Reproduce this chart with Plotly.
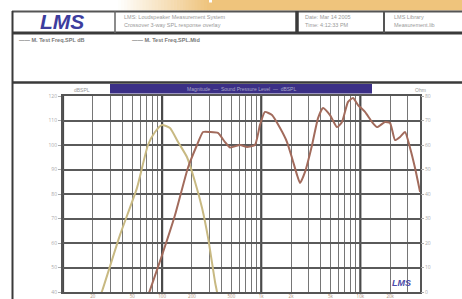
import math
import plotly.graph_objects as go

# ---- data ----
tan_freq = [22, 25, 37.6, 55.8, 72, 84.8, 99.8, 120, 145, 178, 215, 253, 291, 342, 358, 380]
tan_db = [35, 40.8, 63.3, 82.5, 100, 105.3, 108.2, 106.9, 101.2, 95.1, 84.9, 74.3, 62.1, 44.1, 40, 33]

brown_freq = [68, 75.5, 100, 135, 182, 225, 259, 304, 366, 431, 484, 611, 719, 865, 972,
              1091, 1285, 1549, 1821, 2046, 2297, 2464, 2768, 3258, 3743, 4204, 4944, 5818,
              6535, 7512, 8437, 9480, 11150, 13120, 14750, 17750, 19950, 22390, 25170,
              28250, 31760, 35650, 40080]
brown_db = [36, 40.8, 55.1, 71.4, 90.6, 100, 105.3, 105.3, 104.9, 101.2, 99, 100, 99.2, 100,
            108.2, 113.5, 112.2, 106.9, 101.2, 94.7, 87.8, 84.5, 89, 100, 111, 115.1, 112.2,
            107.3, 109.4, 117.6, 119.2, 116.3, 113.5, 109.4, 107.3, 109.4, 109, 102, 103.3,
            105.3, 98.8, 90.6, 80.8]

x_tick_vals = [20, 50, 100, 200, 500, 1000, 2000, 5000, 10000, 20000]
x_tick_text = ["20", "50", "100", "200", "500", "1k", "2k", "5k", "10k", "20k"]
y_tick_vals = [40, 50, 60, 70, 80, 90, 100, 110, 120]
y2_tick_vals = [0, 10, 20, 30, 40, 50, 60, 70, 80]
decades = [10, 100, 1000, 10000]

# ---- page geometry helpers (pixel -> paper) ----
W, H = 462, 299
L, R, T, B = 63, 420, 96, 292


def px(x):
    return (x - L) / (R - L)


def py(y):
    return (B - y) / (B - T)


minor_grid = [m * d for d in decades for m in range(2, 10) if m * d < 40000]

fig = go.Figure()
fig.add_trace(go.Scatter(x=tan_freq, y=tan_db, mode="lines",
                         line=dict(color="#c8b982", width=2, shape="spline", smoothing=0.5),
                         hoverinfo="skip", showlegend=False))
fig.add_trace(go.Scatter(x=brown_freq, y=brown_db, mode="lines",
                         line=dict(color="#a26b5c", width=2, shape="spline", smoothing=0.5),
                         hoverinfo="skip", showlegend=False))
fig.add_trace(go.Scatter(x=[100], y=[40], yaxis="y2", mode="markers",
                         marker=dict(opacity=0), hoverinfo="skip", showlegend=False))

shapes = []
# orange gradient band at top
c0 = (255, 255, 255)
c1 = (239, 196, 124)
n = 30
x0g, x1g = 118, 210
for i in range(n):
    t = (i + 0.5) / n
    col = tuple(int(c0[k] + (c1[k] - c0[k]) * t) for k in range(3))
    xa = x0g + (x1g - x0g) * i / n
    xb = x0g + (x1g - x0g) * (i + 1) / n + 0.5
    shapes.append(dict(type="rect", xref="paper", yref="paper", x0=px(xa), x1=px(xb),
                       y0=py(10.5), y1=py(0), fillcolor="rgb(%d,%d,%d)" % col,
                       line=dict(width=0), layer="below"))
shapes.append(dict(type="rect", xref="paper", yref="paper", x0=px(x1g), x1=px(W),
                   y0=py(10.5), y1=py(0), fillcolor="rgb(239,196,124)",
                   line=dict(width=0), layer="below"))
# small white fleck in the band
shapes.append(dict(type="rect", xref="paper", yref="paper", x0=px(209), x1=px(212),
                   y0=py(2.5), y1=py(0), fillcolor="#ffffff", line=dict(width=0)))


def hline(y, x0, x1, w, c):
    shapes.append(dict(type="line", xref="paper", yref="paper", x0=px(x0), x1=px(x1),
                       y0=py(y), y1=py(y), line=dict(color=c, width=w)))


def vline(x, y0, y1, w, c):
    shapes.append(dict(type="line", xref="paper", yref="paper", x0=px(x), x1=px(x),
                       y0=py(y0), y1=py(y1), line=dict(color=c, width=w)))


hline(11.5, 12, W, 2, "#555555")
hline(33, 12, W, 3, "#3a3a3a")
vline(12.5, 11, H, 2, "#3a3a3a")
vline(115, 11, 33, 1.5, "#666666")
vline(297, 11, 33, 3.5, "#3a3a3a")
vline(384, 11, 33, 2, "#555555")
hline(82.5, 12, W, 2.5, "#3a3a3a")

# title bar
shapes.append(dict(type="rect", xref="paper", yref="paper", x0=px(110), x1=px(372),
                   y0=py(93.5), y1=py(84), fillcolor="#3b2f86", line=dict(width=0)))

# heavy decade grid lines and the tan reference line
for d in decades:
    shapes.append(dict(type="line", xref="x", yref="paper", x0=d, x1=d, y0=0, y1=1,
                       line=dict(color="#4a4a4a", width=2.2), layer="between"))
shapes.append(dict(type="line", xref="paper", yref="y", x0=0, x1=1, y0=80, y1=80,
                   line=dict(color="#cfc496", width=2), layer="between"))

annotations = []


def txt(x, y, s, size=5, color="#999999", xanchor="left", **kw):
    annotations.append(dict(xref="paper", yref="paper", x=px(x), y=py(y), text=s,
                            showarrow=False, xanchor=xanchor, yanchor="middle",
                            font=dict(size=size, color=color, family="Liberation Sans"), **kw))


txt(62, 21, "<i><b>LMS</b></i>", size=21, color="#3d3d9e", xanchor="center")
txt(122, 17, "LMS: Loudspeaker Measurement System", size=5.5, color="#9a9a9a")
txt(122, 25, "Crossover 3-way SPL response overlay", size=5.5, color="#9a9a9a")
txt(303, 17, "Date: Mar 14 2005", size=5.5, color="#9a9a9a")
txt(303, 25, "Time: 4:12:33 PM", size=5.5, color="#9a9a9a")
txt(392, 17, "LMS Library", size=5.5, color="#9a9a9a")
txt(392, 25, "Measurement.lib", size=5.5, color="#9a9a9a")
txt(17, 40, "<b>—— M. Test Freq.SPL dB</b>", size=5.5, color="#777777")
txt(130, 40, "<b>—— M. Test Freq.SPL.Mid</b>", size=5.5, color="#777777")
txt(241, 89, "Magnitude  —  Sound Pressure Level  —  dBSPL", size=5, color="#a8a8c8",
    xanchor="center")
txt(72, 89.5, "dBSPL", size=5, color="#999999")
txt(413, 89.5, "Ohm", size=5, color="#999999")
txt(401, 283, "<i><b>LMS</b></i>", size=9, color="#4a4aa8", xanchor="center")

fig.update_layout(
    width=W, height=H, autosize=False,
    margin=dict(l=L, r=W - R, t=T, b=H - B, pad=0, autoexpand=False),
    paper_bgcolor="#ffffff", plot_bgcolor="#ffffff",
    shapes=shapes, annotations=annotations, showlegend=False,
    xaxis=dict(type="log", range=[1, math.log10(40000)], tickvals=x_tick_vals,
               ticktext=x_tick_text, showgrid=False, zeroline=False, automargin=False,
               tickfont=dict(size=4.5, color="#b09078"), ticks="", ticklabelstandoff=-1,
               showline=True, linecolor="#555555", linewidth=2, mirror=True,
               minor=dict(tickvals=minor_grid, showgrid=True, gridcolor="#767676",
                          gridwidth=1.3, ticks="")),
    yaxis=dict(range=[40, 120], tickvals=y_tick_vals, showgrid=True, automargin=False,
               gridcolor="#5a5a5a", gridwidth=2, zeroline=False,
               tickfont=dict(size=5, color="#aaaaaa"), ticks="outside", ticklen=3,
               tickcolor="#aaaaaa", showline=True, linecolor="#555555", linewidth=2,
               mirror=True),
    yaxis2=dict(range=[0, 80], tickvals=y2_tick_vals, overlaying="y", side="right",
                showgrid=False, zeroline=False, automargin=False,
                tickfont=dict(size=5, color="#aaaaaa"),
                ticks="outside", ticklen=3, tickcolor="#aaaaaa"),
)

fig.write_html("out.html", config={"displayModeBar": False},
               post_script="document.body.style.margin='0px';"
               "document.body.style.overflow='hidden';")
